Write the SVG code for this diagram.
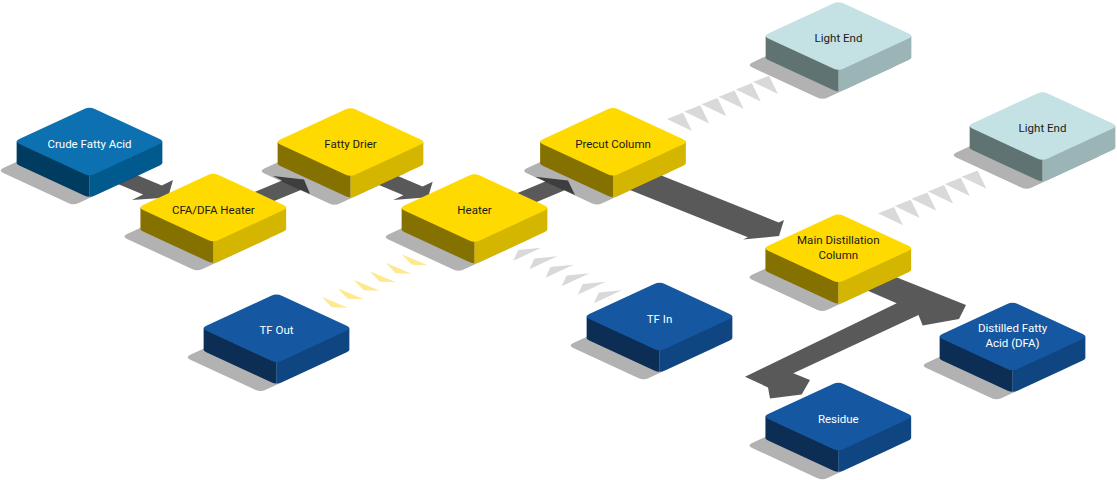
<svg xmlns="http://www.w3.org/2000/svg" xmlns:xlink="http://www.w3.org/1999/xlink" width="1117" height="480" viewBox="0 0 1117 480">
<defs>
<style>
.bg{fill:#fff}
.arrow{fill:#595959}
.chg{fill:#d9d9d9}
.chy{fill:#fde98e}
.sh{fill:#000;fill-opacity:.3}
.lbl{font-family:Roboto,"Liberation Sans",sans-serif;font-size:11.5px;text-anchor:middle}
.dk{fill:#1a1a1a}
.wt{fill:#ffffff}
.yel .t{fill:#ffda00}.yel .l{fill:#857100}.yel .r{fill:#d4b600}
.crude .t{fill:#0d71b1}.crude .l{fill:#003b60}.crude .r{fill:#005a8e}
.navy .t{fill:#1557a0}.navy .l{fill:#0c2d54}.navy .r{fill:#0f4580}
.pale .t{fill:#c4e1e4}.pale .l{fill:#5f7373}.pale .r{fill:#9bb4b6}
</style>
<path id="top" d="M-70.215,-2.45Q-75.5,0 -70.215,2.45L-5.285,32.55Q0,35 5.285,32.55L70.215,2.45Q75.5,0 70.215,-2.45L5.285,-32.55Q0,-35 -5.285,-32.55Z"/>
<path id="lf" d="M-72.86,0V21.5Q-72.86,22.725 -70.215,23.95L-5.285,54.05Q-2.64,55.275 0,55.275V0Z"/>
<path id="rf" d="M0,0V55.275Q2.64,55.275 5.285,54.05L70.215,23.95Q72.86,22.725 72.86,21.5V0Z"/>
<polygon id="cg" points="0,0 16,-6.3 25,12"/>
<polygon id="cy" points="0,0 26,11 10,10.5"/>
<polygon id="ci" points="0,0 28,-13 5,-10.7"/>
</defs>
<rect class="bg" x="0" y="0" width="1117" height="480"/>
<g id="connectors">
  <polygon class="arrow" points="95,157.4 161.8,185.4 173,180 168,197.5 132,200 143.1,194.6 95,174.4"/>
  <polygon class="arrow" points="240,198.1 282.1,180.4 273,176 304,179.5 310,194 300.9,190.1 240,215.1"/>
  <polygon class="arrow" points="360,160.1 422.6,186.4 432.7,181.7 428,197.2 393.3,200 403.4,195.3 360,177.1"/>
  <polygon class="arrow" points="500,200.45 545.3,181.4 535,176.7 568,180.4 575,195 564.7,190.3 500,217.45"/>
  <polygon class="arrow" points="615,157 778.7,222.5 784,220 779,236 743,239.5 747.9,237.2 615,184"/>
  <polygon class="arrow" points="858,262 966,305 959,319 922.7,325.5 918.5,315 793.3,373.3 810,380 801.7,394.5 770,398.5 768,387.5 745,376.7 896.7,303.3 850,283"/>
  <g class="chg">
    <use xlink:href="#cg" x="667" y="119"/>
    <use xlink:href="#cg" x="684.2" y="111.6"/>
    <use xlink:href="#cg" x="701.4" y="104.2"/>
    <use xlink:href="#cg" x="718.6" y="96.8"/>
    <use xlink:href="#cg" x="735.8" y="89.4"/>
    <use xlink:href="#cg" x="753" y="82"/>
    <use xlink:href="#cg" x="878" y="213.3"/>
    <use xlink:href="#cg" x="894.7" y="206"/>
    <use xlink:href="#cg" x="911.4" y="198.7"/>
    <use xlink:href="#cg" x="928.1" y="191.4"/>
    <use xlink:href="#cg" x="944.8" y="184.1"/>
    <use xlink:href="#cg" x="961.5" y="176.8"/>
    <use xlink:href="#ci" x="513.3" y="260.7"/>
    <use xlink:href="#ci" x="529.4" y="269.2"/>
    <use xlink:href="#ci" x="545.5" y="277.7"/>
    <use xlink:href="#ci" x="561.6" y="286.2"/>
    <use xlink:href="#ci" x="577.7" y="294.7"/>
    <use xlink:href="#ci" x="593.8" y="303.2"/>
  </g>
  <g class="chy">
    <use xlink:href="#cy" x="321.7" y="296.7"/>
    <use xlink:href="#cy" x="337.7" y="288.2"/>
    <use xlink:href="#cy" x="353.7" y="279.7"/>
    <use xlink:href="#cy" x="369.7" y="271.2"/>
    <use xlink:href="#cy" x="385.7" y="262.7"/>
    <use xlink:href="#cy" x="401.7" y="254.2"/>
  </g>
</g>
<g id="crude-fatty-acid" class="crude" transform="translate(89.5,141.5)">
  <use xlink:href="#top" class="sh" transform="translate(-16,29)"/>
  <use xlink:href="#lf" class="l"/><use xlink:href="#rf" class="r"/><use xlink:href="#top" class="t"/>
  <text class="lbl wt" x="0" y="6">Crude Fatty Acid</text>
</g>
<g id="cfa-dfa-heater" class="yel" transform="translate(213.3,207.5)">
  <use xlink:href="#top" class="sh" transform="translate(-16,29)"/>
  <use xlink:href="#lf" class="l"/><use xlink:href="#rf" class="r"/><use xlink:href="#top" class="t"/>
  <text class="lbl dk" x="0" y="6">CFA/DFA Heater</text>
</g>
<g id="fatty-drier" class="yel" transform="translate(350.5,142)">
  <use xlink:href="#top" class="sh" transform="translate(-16,29)"/>
  <use xlink:href="#lf" class="l"/><use xlink:href="#rf" class="r"/><use xlink:href="#top" class="t"/>
  <text class="lbl dk" x="0" y="6">Fatty Drier</text>
</g>
<g id="heater" class="yel" transform="translate(474.5,208)">
  <use xlink:href="#top" class="sh" transform="translate(-16,29)"/>
  <use xlink:href="#lf" class="l"/><use xlink:href="#rf" class="r"/><use xlink:href="#top" class="t"/>
  <text class="lbl dk" x="0" y="6">Heater</text>
</g>
<g id="precut-column" class="yel" transform="translate(613,141.7)">
  <use xlink:href="#top" class="sh" transform="translate(-16,29)"/>
  <use xlink:href="#lf" class="l"/><use xlink:href="#rf" class="r"/><use xlink:href="#top" class="t"/>
  <text class="lbl dk" x="0" y="6">Precut Column</text>
</g>
<g id="light-end-1" class="pale" transform="translate(838.5,36)">
  <use xlink:href="#top" class="sh" transform="translate(-16,29)"/>
  <use xlink:href="#lf" class="l"/><use xlink:href="#rf" class="r"/><use xlink:href="#top" class="t"/>
  <text class="lbl dk" x="0" y="6">Light End</text>
</g>
<g id="light-end-2" class="pale" transform="translate(1042.5,126)">
  <use xlink:href="#top" class="sh" transform="translate(-16,29)"/>
  <use xlink:href="#lf" class="l"/><use xlink:href="#rf" class="r"/><use xlink:href="#top" class="t"/>
  <text class="lbl dk" x="0" y="6">Light End</text>
</g>
<g id="main-distillation-column" class="yel" transform="translate(838.3,248.3)">
  <use xlink:href="#top" class="sh" transform="translate(-16,29)"/>
  <use xlink:href="#lf" class="l"/><use xlink:href="#rf" class="r"/><use xlink:href="#top" class="t"/>
  <text class="lbl dk" x="0" y="-4.3">Main Distillation</text>
  <text class="lbl dk" x="0" y="10.4">Column</text>
</g>
<g id="tf-out" class="navy" transform="translate(276.5,328.3)">
  <use xlink:href="#top" class="sh" transform="translate(-16,29)"/>
  <use xlink:href="#lf" class="l"/><use xlink:href="#rf" class="r"/><use xlink:href="#top" class="t"/>
  <text class="lbl wt" x="0" y="6">TF Out</text>
</g>
<g id="tf-in" class="navy" transform="translate(659.5,316.5)">
  <use xlink:href="#top" class="sh" transform="translate(-16,29)"/>
  <use xlink:href="#lf" class="l"/><use xlink:href="#rf" class="r"/><use xlink:href="#top" class="t"/>
  <text class="lbl wt" x="0" y="6">TF In</text>
</g>
<g id="distilled-fatty-acid" class="navy" transform="translate(1012.5,336.5)">
  <use xlink:href="#top" class="sh" transform="translate(-16,29)"/>
  <use xlink:href="#lf" class="l"/><use xlink:href="#rf" class="r"/><use xlink:href="#top" class="t"/>
  <text class="lbl wt" x="0" y="-4.2">Distilled Fatty</text>
  <text class="lbl wt" x="0" y="10.2">Acid (DFA)</text>
</g>
<g id="residue" class="navy" transform="translate(838.3,416.5)">
  <use xlink:href="#top" class="sh" transform="translate(-16,29)"/>
  <use xlink:href="#lf" class="l"/><use xlink:href="#rf" class="r"/><use xlink:href="#top" class="t"/>
  <text class="lbl wt" x="0" y="6">Residue</text>
</g>
</svg>
